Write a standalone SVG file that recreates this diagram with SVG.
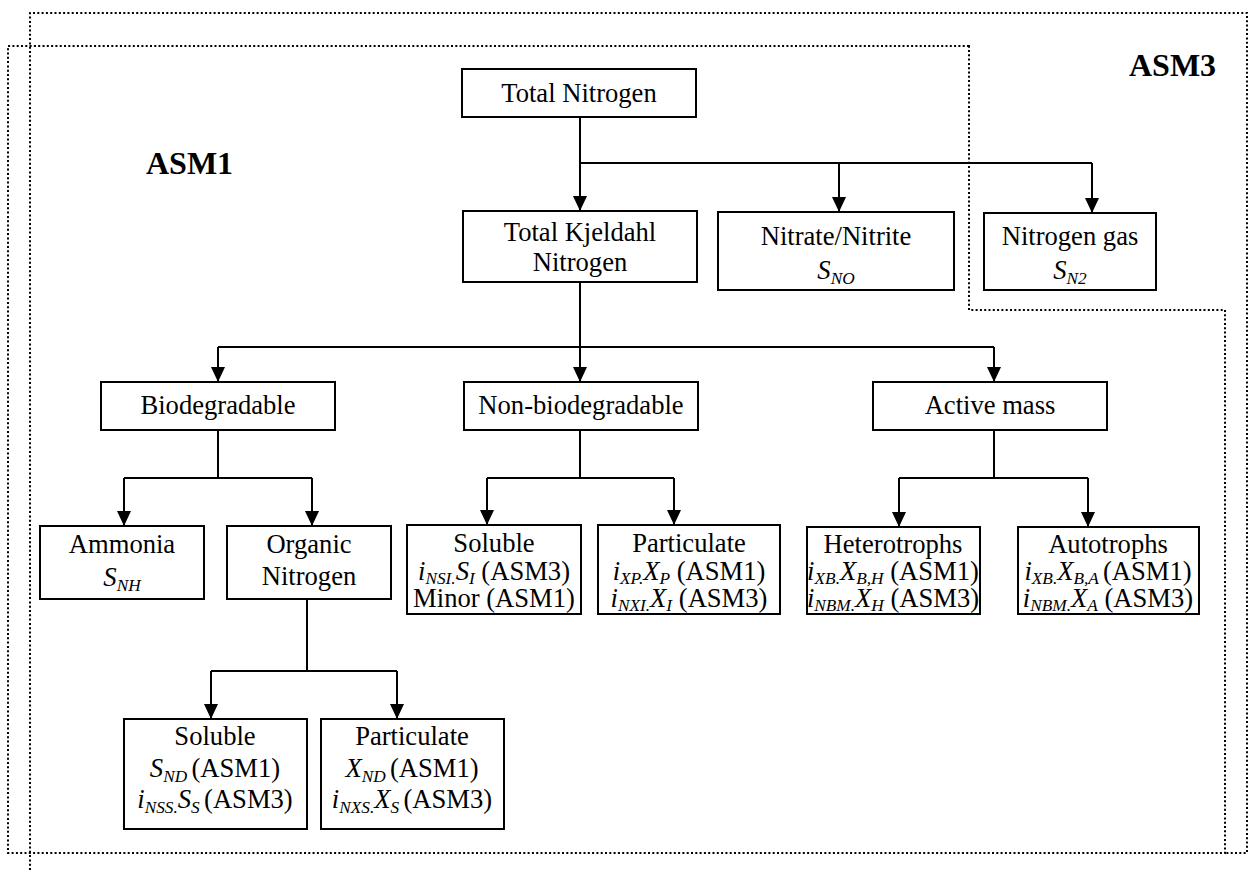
<svg xmlns="http://www.w3.org/2000/svg" width="1255" height="870" viewBox="0 0 1255 870">
  <style>
    .box { fill: #fff; stroke: #000; stroke-width: 2; }
    .t { font-family: "Liberation Serif", "Times New Roman", serif; font-size: 26.6px; fill: #000; text-anchor: middle; }
    .it { font-style: italic; }
    .sb { font-style: italic; font-size: 17.3px; }
    .lbl { font-family: "Liberation Serif", "Times New Roman", serif; font-size: 32px; font-weight: bold; fill: #000; }
    .zone { fill: none; stroke: #000; stroke-width: 2; stroke-dasharray: 2 2.3; }
    .wire { fill: none; stroke: #000; stroke-width: 2; }
    .arr { fill: none; stroke: #000; stroke-width: 2; marker-end: url(#head); }
  </style>
  <defs>
    <marker id="head" viewBox="0 0 15 14" markerWidth="15" markerHeight="14" refX="15" refY="7" orient="auto" markerUnits="userSpaceOnUse">
      <path d="M0,0 L15,7 L0,14 Z" fill="#000"/>
    </marker>
  </defs>
  <rect width="1255" height="870" fill="#fff"/>

  <!-- model scope boundaries -->
  <g id="zones">
    <path class="zone" d="M30,870 V13 H1247 V853 H1225"/>
    <path class="zone" d="M969,46 H8 V853 H1225 V310 H969 Z"/>
    <text class="lbl" x="1129" y="76">ASM3</text>
    <text class="lbl" x="146" y="174">ASM1</text>
  </g>

  <!-- connectors -->
  <g id="connectors">
    <path class="wire" d="M580,117 V163 H1092"/>
    <path class="arr" d="M580,163 V211"/>
    <path class="arr" d="M839,163 V212"/>
    <path class="arr" d="M1092,163 V213"/>

    <path class="wire" d="M580,282 V347 M218,347 H994"/>
    <path class="arr" d="M218,347 V382"/>
    <path class="arr" d="M580,347 V382"/>
    <path class="arr" d="M994,347 V382"/>

    <path class="wire" d="M218,430 V478 M124,478 H312"/>
    <path class="arr" d="M124,478 V526"/>
    <path class="arr" d="M312,478 V526"/>

    <path class="wire" d="M580,430 V478 M487,478 H674"/>
    <path class="arr" d="M487,478 V525"/>
    <path class="arr" d="M674,478 V525"/>

    <path class="wire" d="M994,430 V478 M899,478 H1088"/>
    <path class="arr" d="M899,478 V527"/>
    <path class="arr" d="M1088,478 V527"/>

    <path class="wire" d="M307,599 V671 M211,671 H397"/>
    <path class="arr" d="M211,671 V719"/>
    <path class="arr" d="M397,671 V719"/>
  </g>

  <g id="total-nitrogen">
    <rect class="box" x="462" y="69" width="234" height="48"/>
    <text class="t" x="579" y="102">Total Nitrogen</text>
  </g>

  <g id="tkn">
    <rect class="box" x="463" y="211" width="234" height="71"/>
    <text class="t" x="580" y="241">Total Kjeldahl</text>
    <text class="t" x="580" y="271">Nitrogen</text>
  </g>

  <g id="nitrate">
    <rect class="box" x="718" y="212" width="236" height="78"/>
    <text class="t" x="836" y="245">Nitrate/Nitrite</text>
    <text class="t" x="836" y="279"><tspan class="it">S</tspan><tspan class="sb" dy="5">NO</tspan></text>
  </g>

  <g id="nitrogen-gas">
    <rect class="box" x="984" y="213" width="172" height="77"/>
    <text class="t" x="1070" y="245">Nitrogen gas</text>
    <text class="t" x="1070" y="279"><tspan class="it">S</tspan><tspan class="sb" dy="5">N2</tspan></text>
  </g>

  <g id="biodegradable">
    <rect class="box" x="101" y="382" width="234" height="48"/>
    <text class="t" x="218" y="414">Biodegradable</text>
  </g>

  <g id="non-biodegradable">
    <rect class="box" x="464" y="382" width="234" height="48"/>
    <text class="t" x="581" y="414">Non-biodegradable</text>
  </g>

  <g id="active-mass">
    <rect class="box" x="873" y="382" width="234" height="48"/>
    <text class="t" x="990" y="414">Active mass</text>
  </g>

  <g id="ammonia">
    <rect class="box" x="40" y="526" width="164" height="73"/>
    <text class="t" x="122" y="553">Ammonia</text>
    <text class="t" x="122" y="586"><tspan class="it">S</tspan><tspan class="sb" dy="5">NH</tspan></text>
  </g>

  <g id="organic-nitrogen">
    <rect class="box" x="227" y="526" width="164" height="73"/>
    <text class="t" x="309" y="553">Organic</text>
    <text class="t" x="309" y="585">Nitrogen</text>
  </g>

  <g id="nb-soluble">
    <rect class="box" x="407" y="525" width="174" height="89"/>
    <text class="t" x="494" y="552">Soluble</text>
    <text class="t" x="494" y="580"><tspan class="it">i</tspan><tspan class="sb" dy="4">NSI</tspan><tspan class="sb">.</tspan><tspan class="it" dy="-4">S</tspan><tspan class="sb" dy="4">I</tspan><tspan dy="-4">  (ASM3)</tspan></text>
    <text class="t" x="494" y="607">Minor (ASM1)</text>
  </g>

  <g id="nb-particulate">
    <rect class="box" x="598" y="525" width="182" height="89"/>
    <text class="t" x="689" y="552">Particulate</text>
    <text class="t" x="689" y="580"><tspan class="it">i</tspan><tspan class="sb" dy="4">XP</tspan><tspan class="sb">.</tspan><tspan class="it" dy="-4">X</tspan><tspan class="sb" dy="4">P</tspan><tspan dy="-4">  (ASM1)</tspan></text>
    <text class="t" x="689" y="607"><tspan class="it">i</tspan><tspan class="sb" dy="4">NXI</tspan><tspan class="sb">.</tspan><tspan class="it" dy="-4">X</tspan><tspan class="sb" dy="4">I</tspan><tspan dy="-4">  (ASM3)</tspan></text>
  </g>

  <g id="heterotrophs">
    <rect class="box" x="807" y="527" width="173" height="87"/>
    <text class="t" x="893" y="553">Heterotrophs</text>
    <text class="t" x="893" y="580"><tspan class="it">i</tspan><tspan class="sb" dy="4">XB</tspan><tspan class="sb">.</tspan><tspan class="it" dy="-4">X</tspan><tspan class="sb" dy="4">B,H</tspan><tspan dy="-4"> (ASM1)</tspan></text>
    <text class="t" x="893" y="607"><tspan class="it">i</tspan><tspan class="sb" dy="4">NBM</tspan><tspan class="sb">.</tspan><tspan class="it" dy="-4">X</tspan><tspan class="sb" dy="4">H</tspan><tspan dy="-4"> (ASM3)</tspan></text>
  </g>

  <g id="autotrophs">
    <rect class="box" x="1018" y="527" width="181" height="87"/>
    <text class="t" x="1108" y="553">Autotrophs</text>
    <text class="t" x="1108" y="580"><tspan class="it">i</tspan><tspan class="sb" dy="4">XB</tspan><tspan class="sb">.</tspan><tspan class="it" dy="-4">X</tspan><tspan class="sb" dy="4">B,A </tspan><tspan dy="-4">(ASM1)</tspan></text>
    <text class="t" x="1108" y="607"><tspan class="it">i</tspan><tspan class="sb" dy="4">NBM</tspan><tspan class="sb">.</tspan><tspan class="it" dy="-4">X</tspan><tspan class="sb" dy="4">A</tspan><tspan dy="-4"> (ASM3)</tspan></text>
  </g>

  <g id="on-soluble">
    <rect class="box" x="124" y="719" width="183" height="110"/>
    <text class="t" x="215" y="745">Soluble</text>
    <text class="t" x="215" y="777"><tspan class="it">S</tspan><tspan class="sb" dy="5">ND </tspan><tspan dy="-5">(ASM1)</tspan></text>
    <text class="t" x="215" y="808"><tspan class="it">i</tspan><tspan class="sb" dy="5">NSS</tspan><tspan class="sb">.</tspan><tspan class="it" dy="-5">S</tspan><tspan class="sb" dy="5">S </tspan><tspan dy="-5">(ASM3)</tspan></text>
  </g>

  <g id="on-particulate">
    <rect class="box" x="321" y="719" width="183" height="110"/>
    <text class="t" x="412" y="745">Particulate</text>
    <text class="t" x="412" y="777"><tspan class="it">X</tspan><tspan class="sb" dy="5">ND </tspan><tspan dy="-5">(ASM1)</tspan></text>
    <text class="t" x="412" y="808"><tspan class="it">i</tspan><tspan class="sb" dy="5">NXS</tspan><tspan class="sb">.</tspan><tspan class="it" dy="-5">X</tspan><tspan class="sb" dy="5">S </tspan><tspan dy="-5">(ASM3)</tspan></text>
  </g>
</svg>
